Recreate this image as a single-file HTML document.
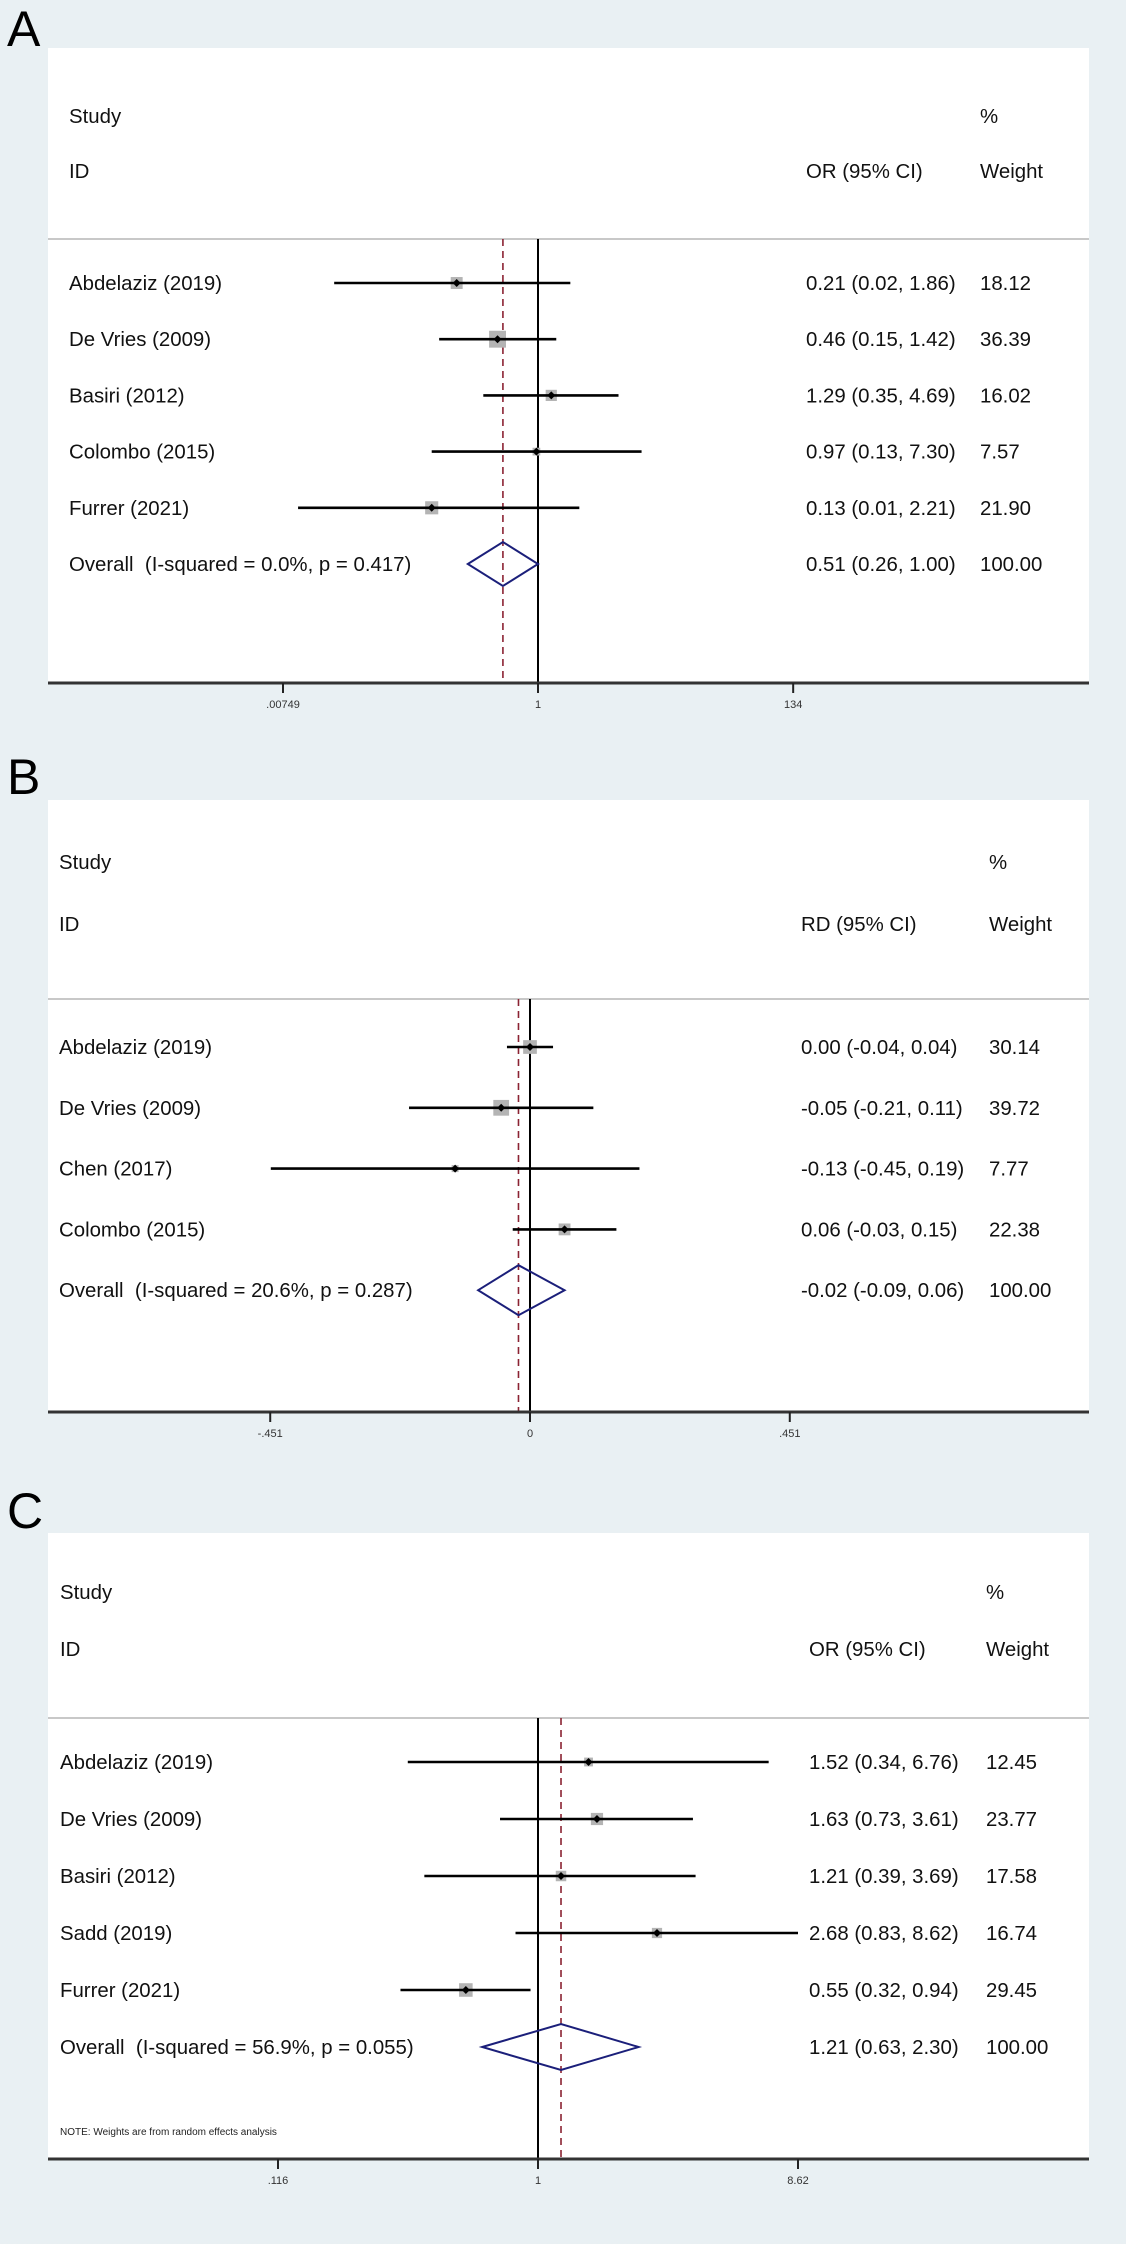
<!DOCTYPE html>
<html><head><meta charset="utf-8"><style>
html,body{margin:0;padding:0;background:#e9f0f3;}
svg{display:block;font-family:"Liberation Sans",Arial,sans-serif;}
svg text{white-space:pre;}
</style></head><body>
<svg id="fig" width="1126" height="2244" viewBox="0 0 1126 2244" xml:space="preserve"></svg>
<script>
// ---------- Panel A data ----------
const aStudies = ["Abdelaziz (2019)","De Vries (2009)","Basiri (2012)","Colombo (2015)","Furrer (2021)"];
const aEst = [0.21,0.46,1.29,0.97,0.13];
const aLo = [0.02,0.15,0.35,0.13,0.01];
const aHi = [1.86,1.42,4.69,7.30,2.21];
const aWeight = [18.12,36.39,16.02,7.57,21.90];
const aOverall = [0.51,0.26,1.00];
const aOverallLabel = "Overall  (I-squared = 0.0%, p = 0.417)";
const aTicks = [0.00749,1,134];
const aTickLabels = [".00749","1","134"];
// ---------- Panel B data ----------
const bStudies = ["Abdelaziz (2019)","De Vries (2009)","Chen (2017)","Colombo (2015)"];
const bEst = [0.00,-0.05,-0.13,0.06];
const bLo = [-0.04,-0.21,-0.45,-0.03];
const bHi = [0.04,0.11,0.19,0.15];
const bWeight = [30.14,39.72,7.77,22.38];
const bOverall = [-0.02,-0.09,0.06];
const bOverallLabel = "Overall  (I-squared = 20.6%, p = 0.287)";
const bTicks = [-0.451,0,0.451];
const bTickLabels = ["-.451","0",".451"];
// ---------- Panel C data ----------
const cStudies = ["Abdelaziz (2019)","De Vries (2009)","Basiri (2012)","Sadd (2019)","Furrer (2021)"];
const cEst = [1.52,1.63,1.21,2.68,0.55];
const cLo = [0.34,0.73,0.39,0.83,0.32];
const cHi = [6.76,3.61,3.69,8.62,0.94];
const cWeight = [12.45,23.77,17.58,16.74,29.45];
const cOverall = [1.21,0.63,2.30];
const cOverallLabel = "Overall  (I-squared = 56.9%, p = 0.055)";
const cTicks = [0.116,1,8.62];
const cTickLabels = [".116","1","8.62"];

const NS = "http://www.w3.org/2000/svg";
const svg = document.getElementById("fig");
function mk(tag, attrs, parent, text){
  const e = document.createElementNS(NS, tag);
  for (const k in attrs) e.setAttribute(k, attrs[k]);
  if (text !== undefined) e.textContent = text;
  (parent||svg).appendChild(e);
  return e;
}
function fmt(v){ return v.toFixed(2); }

function panel(cfg){
  const g = mk("g", {});
  
  
  const lt = mk("text", {x:7, y:cfg.letterY, "font-size":50, fill:"#000"}, g, cfg.letter);
  
  
  const bg = mk("rect", {x:48, y:cfg.top, width:1041, height:cfg.axisY-cfg.top, fill:"#fff"}, g);
  
  
  const X = cfg.scale;
  const fs = 20.4;
  function txt(x, y, s, name, size){
    const t = mk("text", {x:x, y:y+7, "font-size":size||fs, fill:"#111"}, g, s);
    
    
    return t;
  }
  txt(cfg.textX, cfg.studyY, "Study", "column-header-study");
  txt(cfg.textX, cfg.idY, "ID", "column-header-id");
  txt(cfg.wX, cfg.studyY, "%", "column-header-percent");
  txt(cfg.estX, cfg.idY, cfg.measure + " (95% CI)", "column-header-estimate");
  txt(cfg.wX, cfg.idY, "Weight", "column-header-weight");
  const hl = mk("line", {x1:48, x2:1089, y1:cfg.lineY, y2:cfg.lineY, stroke:"#c8c8c8", "stroke-width":2}, g);
  
  
  const nl = mk("line", {x1:X(cfg.nullV), x2:X(cfg.nullV), y1:cfg.lineY, y2:cfg.axisY, stroke:"#000", "stroke-width":2}, g);
  
  
  const dl = mk("line", {x1:X(cfg.overall[0]), x2:X(cfg.overall[0]), y1:cfg.lineY, y2:cfg.axisY, stroke:"#8b2332", "stroke-width":1.6, "stroke-dasharray":"7,5"}, g);
  
  
  const n = cfg.studies.length;
  for (let i=0;i<n;i++){
    const y = cfg.row0 + cfg.rowH*i;
    txt(cfg.textX, y, cfg.studies[i], "study-label");
    txt(cfg.estX, y, fmt(cfg.est[i]) + " (" + fmt(cfg.lo[i]) + ", " + fmt(cfg.hi[i]) + ")", "study-estimate-text");
    txt(cfg.wX, y, fmt(cfg.weight[i]), "study-weight-text");
    const s = cfg.boxK*Math.sqrt(cfg.weight[i]);
    const bx = mk("rect", {x:X(cfg.est[i])-s/2, y:y-s/2, width:s, height:s, fill:"#b4b4b4"}, g);
    
    
    const ci = mk("line", {x1:X(cfg.lo[i]), x2:X(cfg.hi[i]), y1:y, y2:y, stroke:"#000", "stroke-width":2.6}, g);
    
    
    const cx = X(cfg.est[i]);
    const pt = mk("polygon", {points:(cx-4)+","+y+" "+cx+","+(y-4)+" "+(cx+4)+","+y+" "+cx+","+(y+4), fill:"#000"}, g);
    
    
  }
  const oy = cfg.row0 + cfg.rowH*n;
  txt(cfg.textX, oy, cfg.overallLabel, "overall-label");
  txt(cfg.estX, oy, fmt(cfg.overall[0]) + " (" + fmt(cfg.overall[1]) + ", " + fmt(cfg.overall[2]) + ")", "overall-estimate-text");
  txt(cfg.wX, oy, "100.00", "overall-weight-text");
  const dh = cfg.diamondH;
  const dm = mk("polygon", {points: X(cfg.overall[1])+","+oy+" "+X(cfg.overall[0])+","+(oy-dh)+" "+X(cfg.overall[2])+","+oy+" "+X(cfg.overall[0])+","+(oy+dh), fill:"none", stroke:"#1b1f7a", "stroke-width":2}, g);
  
  
  if (cfg.note){
    const nt = mk("text", {x:cfg.textX, y:cfg.noteY+4, "font-size":10, fill:"#222"}, g, cfg.note);
    
    
  }
  const ax = mk("line", {x1:48, x2:1089, y1:cfg.axisY, y2:cfg.axisY, stroke:"#333", "stroke-width":3}, g);
  
  
  for (let i=0;i<cfg.ticks.length;i++){
    const tx = X(cfg.ticks[i]);
    const tk = mk("line", {x1:tx, x2:tx, y1:cfg.axisY, y2:cfg.axisY+10, stroke:"#222", "stroke-width":2}, g);
    
    
    const tl = mk("text", {x:tx, y:cfg.axisY+25, "font-size":11, fill:"#333", "text-anchor":"middle"}, g, cfg.tickLabels[i]);
    
    
  }
}

panel({letter:"A", letterY:46, top:48, axisY:683, studyY:116, idY:171, lineY:239, row0:283, rowH:56.2,
  textX:69, estX:806, wX:980, measure:"OR", nullV:1, boxK:2.8, diamondH:22,
  scale:v=>538+52.1*Math.log(v),
  studies:aStudies, est:aEst, lo:aLo, hi:aHi, weight:aWeight, overall:aOverall, overallLabel:aOverallLabel,
  ticks:aTicks, tickLabels:aTickLabels});
panel({letter:"B", letterY:794, top:800, axisY:1412, studyY:862, idY:924, lineY:999, row0:1047, rowH:60.8,
  textX:59, estX:801, wX:989, measure:"RD", nullV:0, boxK:2.5, diamondH:25,
  scale:v=>530+576*v,
  studies:bStudies, est:bEst, lo:bLo, hi:bHi, weight:bWeight, overall:bOverall, overallLabel:bOverallLabel,
  ticks:bTicks, tickLabels:bTickLabels});
panel({letter:"C", letterY:1528, top:1533, axisY:2159, studyY:1592, idY:1649, lineY:1718, row0:1762, rowH:57,
  textX:60, estX:809, wX:986, measure:"OR", nullV:1, boxK:2.5, diamondH:23,
  scale:v=>538+120.7*Math.log(v),
  studies:cStudies, est:cEst, lo:cLo, hi:cHi, weight:cWeight, overall:cOverall, overallLabel:cOverallLabel,
  ticks:cTicks, tickLabels:cTickLabels, note:"NOTE: Weights are from random effects analysis", noteY:2131});
</script>
</body></html>
